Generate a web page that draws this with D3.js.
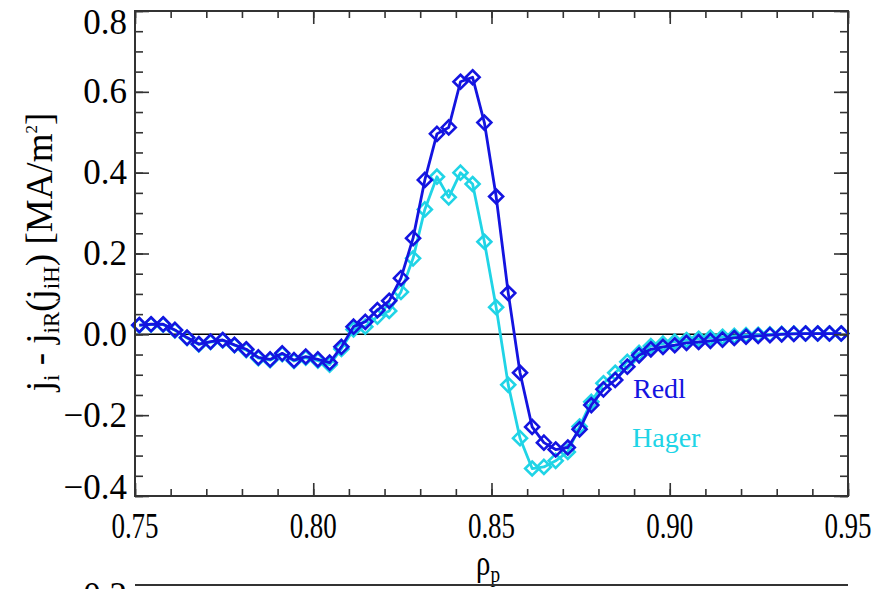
<!DOCTYPE html>
<html lang="en">
<head>
    <meta charset="UTF-8">
    <title>j_i - j_iR(j_iH)</title>
    <style>
        body { margin: 0; background: #fff; }
    </style>
</head>
<body>
<script src="https://cdn.jsdelivr.net/npm/d3@7"></script>
<script type="text/javascript">
    // rho_p grid
    var rho = [0.7512, 0.7545, 0.7579, 0.7612, 0.7646, 0.7679, 0.7712, 0.7746, 0.7779, 0.7812,
               0.7846, 0.7879, 0.7913, 0.7946, 0.7979, 0.8013, 0.8046, 0.8079, 0.8113, 0.8146,
               0.8180, 0.8213, 0.8246, 0.8280, 0.8313, 0.8347, 0.8380, 0.8413, 0.8447, 0.8480,
               0.8513, 0.8547, 0.8580, 0.8614, 0.8647, 0.8680, 0.8714, 0.8747, 0.8780, 0.8814,
               0.8847, 0.8881, 0.8914, 0.8947, 0.8981, 0.9014, 0.9047, 0.9081, 0.9114, 0.9148,
               0.9181, 0.9214, 0.9248, 0.9281, 0.9314, 0.9348, 0.9381, 0.9415, 0.9448, 0.9481];
    // Redl
    var redl = [0.023, 0.025, 0.025, 0.011, -0.008, -0.024, -0.018, -0.014, -0.026, -0.037,
                -0.057, -0.062, -0.047, -0.064, -0.055, -0.062, -0.070, -0.031, 0.019, 0.031,
                0.060, 0.083, 0.139, 0.238, 0.382, 0.496, 0.512, 0.625, 0.636, 0.524,
                0.341, 0.102, -0.095, -0.229, -0.268, -0.285, -0.280, -0.235, -0.175, -0.136,
                -0.113, -0.080, -0.052, -0.037, -0.031, -0.027, -0.021, -0.019, -0.016, -0.013,
                -0.009, -0.006, -0.004, -0.002, 0.000, 0.001, 0.002, 0.002, 0.002, 0.002];
    // Hager
    var hager = [0.022, 0.024, 0.024, 0.010, -0.009, -0.025, -0.019, -0.015, -0.027, -0.039,
                 -0.059, -0.064, -0.049, -0.066, -0.058, -0.065, -0.075, -0.036, 0.012, 0.019,
                 0.044, 0.058, 0.105, 0.188, 0.309, 0.390, 0.339, 0.400, 0.372, 0.229,
                 0.067, -0.125, -0.257, -0.332, -0.328, -0.313, -0.291, -0.228, -0.167, -0.121,
                 -0.095, -0.068, -0.046, -0.029, -0.023, -0.018, -0.014, -0.011, -0.008, -0.006,
                 -0.004, -0.002, -0.001, 0.000, 0.001, 0.002, 0.002, 0.002, 0.002, 0.002];
    var xTicks = [0.75, 0.80, 0.85, 0.90, 0.95];
    var yTicks = [-0.4, -0.2, 0.0, 0.2, 0.4, 0.6, 0.8];

    var W = 889, H = 589;
    var pL = 135, pR = 848, pT = 11, pB = 496;
    var blue = "#1414e0", cyan = "#20d4e6";
    var serif = "'Liberation Serif', 'Times New Roman', Times, serif";

    var svg = d3.select("body").append("svg").attr("width", W).attr("height", H)
        .attr("font-family", serif);

    var x = d3.scaleLinear().domain([0.75, 0.95]).range([pL, pR]);
    var y = d3.scaleLinear().domain([-0.4, 0.8]).range([pB, pT]);

    // zero line
    svg.append("line")
        .attr("x1", pL).attr("x2", pR)
        .attr("y1", y(0)).attr("y2", y(0))
        .attr("stroke", "#000").attr("stroke-width", 1.5);

    // curves, Hager underneath
    var line = d3.line().x(function (d) { return x(d[0]); }).y(function (d) { return y(d[1]); });
    var diamond = "M0,-7L7,0L0,7L-7,0Z";

    function drawSeries(vals, col) {
        var pts = rho.map(function (r, i) { return [r, vals[i]]; });
        svg.append("path").datum(pts)
            .attr("d", line)
            .attr("fill", "none").attr("stroke", col).attr("stroke-width", 2.8)
            .attr("stroke-linejoin", "round");
        svg.append("g").selectAll("path").data(pts).enter().append("path")
            .attr("d", diamond)
            .attr("transform", function (d) { return "translate(" + x(d[0]) + "," + y(d[1]) + ")"; })
            .attr("fill", "none").attr("stroke", col).attr("stroke-width", 2.6);
    }
    drawSeries(hager, cyan);
    drawSeries(redl, blue);

    // axes box + ticks
    var axisCol = "#333";
    svg.append("rect")
        .attr("x", pL).attr("y", pT).attr("width", pR - pL).attr("height", pB - pT)
        .attr("fill", "none").attr("stroke", axisCol).attr("stroke-width", 2);

    var xAxisB = d3.axisBottom(x).tickValues(xTicks).tickSize(-13).tickFormat("");
    var xAxisBm = d3.axisBottom(x).ticks(20).tickSize(-7).tickFormat("");
    var xAxisT = d3.axisTop(x).tickValues(xTicks).tickSize(-13).tickFormat("");
    var xAxisTm = d3.axisTop(x).ticks(20).tickSize(-7).tickFormat("");
    var yAxisL = d3.axisLeft(y).tickValues(yTicks).tickSize(-14).tickFormat("");
    var yAxisLm = d3.axisLeft(y).ticks(24).tickSize(-8).tickFormat("");
    var yAxisR = d3.axisRight(y).tickValues(yTicks).tickSize(-14).tickFormat("");
    var yAxisRm = d3.axisRight(y).ticks(24).tickSize(-8).tickFormat("");

    [[xAxisB, "translate(0," + pB + ")"], [xAxisBm, "translate(0," + pB + ")"],
     [xAxisT, "translate(0," + pT + ")"], [xAxisTm, "translate(0," + pT + ")"],
     [yAxisL, "translate(" + pL + ",0)"], [yAxisLm, "translate(" + pL + ",0)"],
     [yAxisR, "translate(" + pR + ",0)"], [yAxisRm, "translate(" + pR + ",0)"]].forEach(function (a) {
        var g = svg.append("g").attr("transform", a[1]).call(a[0]);
        g.select(".domain").remove();
        g.selectAll(".tick line").attr("stroke", axisCol).attr("stroke-width", 1.6);
    });

    // tick labels
    function label(px, py, txt, anchor, size, sx) {
        return svg.append("text")
            .attr("transform", "translate(" + px + "," + py + ") scale(" + sx + ",1)")
            .attr("text-anchor", anchor)
            .attr("dominant-baseline", "central")
            .attr("font-family", serif)
            .attr("font-size", size)
            .attr("fill", "#000")
            .text(txt);
    }
    xTicks.forEach(function (t) {
        label(x(t), 526, d3.format(".2f")(t), "middle", 36, 0.75);
    });
    yTicks.forEach(function (t) {
        var py = Math.min(Math.max(y(t), 22), 487);
        label(127, py, d3.format(".1f")(t), "end", 35, 1);
    });

    // x title
    var xt = svg.append("text")
        .attr("transform", "translate(488,575) scale(0.8,1)")
        .attr("text-anchor", "middle").attr("font-size", 36).attr("fill", "#000");
    xt.append("tspan").text("ρ");
    xt.append("tspan").attr("font-size", 24).attr("dy", 7).text("p");

    // y title
    var yt = svg.append("text")
        .attr("transform", "translate(52,252) rotate(-90)")
        .attr("text-anchor", "middle").attr("font-size", 37).attr("fill", "#000");
    yt.append("tspan").text("j");
    yt.append("tspan").attr("font-size", 23).attr("dy", 7).text("i");
    yt.append("tspan").attr("dy", -7).text(" - j");
    yt.append("tspan").attr("font-size", 23).attr("dy", 7).text("iR");
    yt.append("tspan").attr("dy", -7).text("(j");
    yt.append("tspan").attr("font-size", 23).attr("dy", 7).text("iH");
    yt.append("tspan").attr("dy", -7).text(") [MA/m");
    yt.append("tspan").attr("font-size", 17).attr("dy", -15).text("2");
    yt.append("tspan").attr("dy", 15).text("]");

    // legend
    svg.append("text").attr("x", 633).attr("y", 398).attr("font-size", 28).attr("fill", blue).text("Redl");
    svg.append("text").attr("x", 632).attr("y", 447).attr("font-size", 28).attr("fill", cyan).text("Hager");

    // top of the next panel, cut off by the frame
    svg.append("line")
        .attr("x1", pL).attr("x2", pR).attr("y1", 585).attr("y2", 585)
        .attr("stroke", axisCol).attr("stroke-width", 2);
    label(127, 595, "0.2", "end", 35, 1);
</script>
</body>
</html>
